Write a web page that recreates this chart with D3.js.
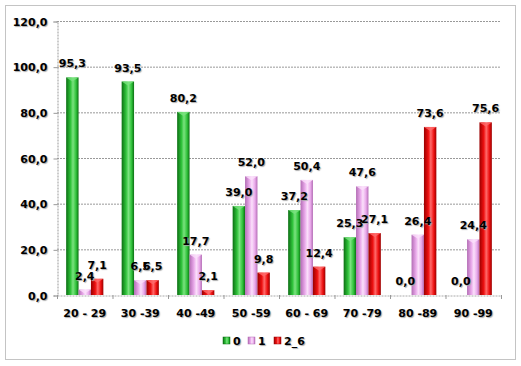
<!DOCTYPE html>
<html><head><meta charset="utf-8">
<script src="https://cdn.jsdelivr.net/npm/d3@7"></script>
<style>
html,body{margin:0;padding:0;background:#fff;}
svg text{font-family:"DejaVu Sans",Verdana,sans-serif;font-weight:bold;font-size:11px;fill:#000;text-shadow:1px 1px 1px #aaa;}
</style></head><body>
<svg id="c" width="521" height="366"></svg>
<script>
const categories = ["20 - 29","30 -39","40 -49","50 -59","60 - 69","70 -79","80 -89","90 -99"];
const seriesNames = ["0","1","2_6"];
const s0 = [95.3, 93.5, 80.2, 39.0, 37.2, 25.3, 0.0, 0.0];
const s1 = [2.4, 6.5, 17.7, 52.0, 50.4, 47.6, 26.4, 24.4];
const s2 = [7.1, 6.5, 2.1, 9.8, 12.4, 27.1, 73.6, 75.6];
const yTicks = [0, 20, 40, 60, 80, 100, 120];
const seriesValues = [s0, s1, s2];

const colors = [
  {dark:"#0b6e12", mid:"#2fc23a", light:"#7be27f"},
  {dark:"#b36db5", mid:"#e9a9ea", light:"#fbe0fb"},
  {dark:"#9a0000", mid:"#ee1010", light:"#ff6a6a"}
];

const svg = d3.select("#c");
const defs = svg.append("defs");
colors.forEach((c,i)=>{
  const g = defs.append("linearGradient").attr("id","g"+i).attr("x1","0").attr("x2","1").attr("y1","0").attr("y2","0");
  g.append("stop").attr("offset","0%").attr("stop-color",c.dark);
  g.append("stop").attr("offset","35%").attr("stop-color",c.mid);
  g.append("stop").attr("offset","55%").attr("stop-color",c.light);
  g.append("stop").attr("offset","80%").attr("stop-color",c.mid);
  g.append("stop").attr("offset","100%").attr("stop-color",c.dark);
});

// outer border
svg.append("rect").attr("x",5.5).attr("y",5.5).attr("width",510).attr("height",354)
  .attr("fill","none").attr("stroke","#888").attr("stroke-dasharray","1,1");

const pLeft = 57, pRight = 501, pTop = 21, pBottom = 295;
const x = d3.scaleBand().domain(categories).range([pLeft,pRight]).paddingInner(0.33).paddingOuter(0.165);
const xs = d3.scaleBand().domain(seriesNames).range([0,x.bandwidth()]);
const y = d3.scaleLinear().domain([0,120]).range([pBottom,pTop]);

// gridlines
svg.append("g").selectAll("line").data(yTicks.filter(d=>d>0)).join("line")
  .attr("x1",pLeft).attr("x2",pRight).attr("y1",d=>y(d)+0.5).attr("y2",d=>y(d)+0.5)
  .attr("stroke","#999").attr("stroke-dasharray","2,1");

// y axis
const yAxis = d3.axisLeft(y).tickValues(yTicks).tickSize(4).tickPadding(6)
  .tickFormat(d=>d3.format(".1f")(d).replace(".",","));
const ya = svg.append("g").attr("transform",`translate(${pLeft+0.5},0.5)`).call(yAxis);
ya.select(".domain").attr("stroke","#999").attr("stroke-dasharray","2,1");
ya.selectAll(".tick line").attr("stroke","#999");
ya.selectAll("text").attr("font-size",null).attr("font-family",null);

// x axis
const xAxis = d3.axisBottom(x).tickSize(0).tickPadding(14);
const xa = svg.append("g").attr("transform",`translate(0,${pBottom+0.5})`).call(xAxis);
xa.select(".domain").attr("stroke","#aaa").attr("stroke-dasharray","2,1");
xa.selectAll("text").attr("font-size",null).attr("font-family",null);
const step = x.step();
svg.append("g").selectAll("line").data(d3.range(categories.length+1)).join("line")
  .attr("x1",i=>pLeft+i*step+0.5).attr("x2",i=>pLeft+i*step+0.5)
  .attr("y1",pBottom).attr("y2",pBottom+4).attr("stroke","#999");

// bars
const groups = svg.append("g").selectAll("g").data(categories).join("g")
  .attr("transform",d=>`translate(${x(d)},0)`);
seriesNames.forEach((s,si)=>{
  groups.each(function(cat,ci){
    const v = seriesValues[si][ci];
    const g = d3.select(this);
    const bx = xs(s), bw = xs.bandwidth();
    const yt = y(v), h = pBottom - yt;
    if (h > 0.5) {
      g.append("rect").attr("x",bx).attr("y",yt).attr("width",bw).attr("height",h)
        .attr("fill",`url(#g${si})`);
      const capH = Math.min(4,h);
      g.append("path")
        .attr("d",`M${bx},${yt} L${bx+bw},${yt} L${bx+bw/2},${yt+capH} Z`)
        .attr("fill",colors[si].light).attr("opacity",0.8);
    }
  });
});
seriesNames.forEach((s,si)=>{
  groups.each(function(cat,ci){
    const v = seriesValues[si][ci];
    const bx = xs(s), bw = xs.bandwidth();
    d3.select(this).append("text").attr("x",bx+bw/2).attr("y",y(v)-10).attr("text-anchor","middle")
      .text(d3.format(".1f")(v).replace(".",","));
  });
});

// legend
const lx = [223, 248, 274];
const legend = svg.append("g");
seriesNames.forEach((s,i)=>{
  legend.append("rect").attr("x",lx[i]).attr("y",337).attr("width",7).attr("height",7)
    .attr("fill",`url(#g${i})`).attr("stroke",colors[i].dark).attr("stroke-width",0.5);
  legend.append("text").attr("x",lx[i]+10).attr("y",345).text(s);
});
</script>
</body></html>
